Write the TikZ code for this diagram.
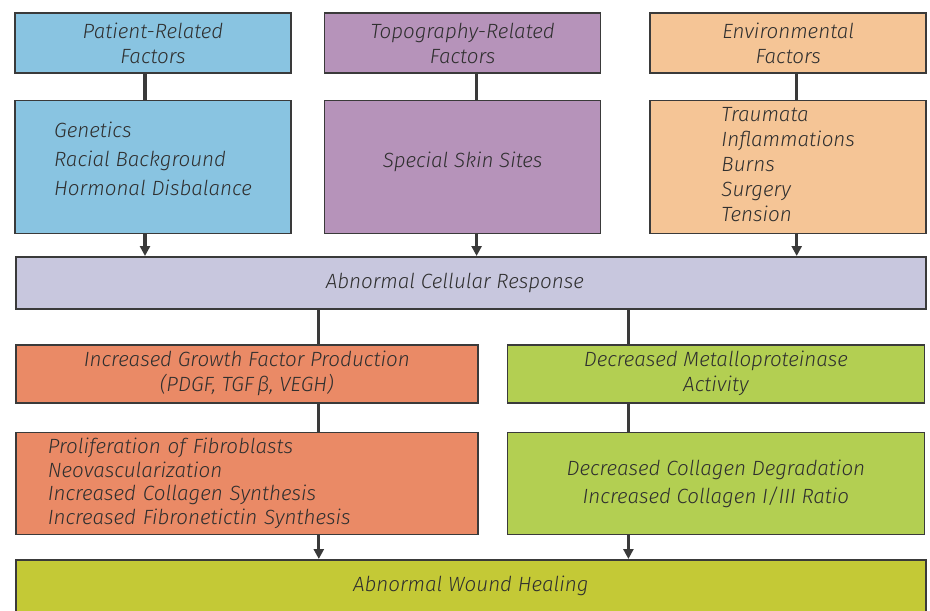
\documentclass[tikz,border=0pt]{standalone}
\usepackage{fontspec}
\IfFontExistsTF{Fira Sans Light Italic}
	{\setmainfont{Fira Sans Light}[ItalicFont={Fira Sans Light Italic}]}
	{\setmainfont{Carlito}}
\usepackage{xcolor}
\usetikzlibrary{arrows.meta,positioning}
\definecolor{patientblue}{HTML}{89C4E1}
\definecolor{topopurple}{HTML}{B693BA}
\definecolor{envpeach}{HTML}{F5C596}
\definecolor{celllilac}{HTML}{C8C7DE}
\definecolor{growthorange}{HTML}{EA8A66}
\definecolor{metalgreen}{HTML}{B3CF52}
\definecolor{healolive}{HTML}{C4C936}
\definecolor{boxline}{HTML}{3A3A3A}
\definecolor{txtgray}{HTML}{2F2F2F}

\begin{document}
\begin{tikzpicture}[x=1pt, y=1pt,
	every node/.style = {shape=rectangle, draw=boxline, line width=0.8pt,
	text=txtgray, font=\itshape\fontsize{10.3}{12.5}\selectfont, inner sep=0pt},
	factor/.style = {minimum width=138pt, minimum height=30pt, align=center},
	detail/.style = {minimum width=138pt, minimum height=66.5pt, align=left},
	wide/.style = {minimum width=455pt, minimum height=26pt, align=center},
	half/.style = {minimum height=29pt, align=center},
	link/.style = {line width=1.6pt, draw=boxline},
	arrow/.style = {link, -{Triangle[length=5pt,width=5pt]}}
]
\clip (0,0) rectangle (465,-305);
\node[factor, fill=patientblue] (patient) at (76.5,-21.5) {Patient-Related\\Factors};
\node[factor, fill=topopurple, right=16pt of patient] (topo) {Topography-Related\\Factors};
\node[factor, fill=envpeach, right=24pt of topo] (env) {Environmental\\Factors};

\node[detail, fill=patientblue, below=13pt of patient, text depth=8pt,
	font=\itshape\fontsize{10.3}{14.5}\selectfont] (patientlist)
	{Genetics\\Racial Background\\Hormonal Disbalance};
\node[detail, fill=topopurple, below=13pt of topo, text depth=7.5pt] (topolist) {Special Skin Sites};
\node[detail, fill=envpeach, below=13pt of env, text depth=3pt] (envlist)
	{Traumata\\Inflammations\\Burns\\Surgery\\Tension};

\node[wide, fill=celllilac, anchor=north west] (cell) at (7.5,-128)
	{\mbox{Abnormal Cellular Response\kern16pt}};

\node[half, fill=growthorange, minimum width=231pt, anchor=north west] (growth) at (7.5,-172)
	{Increased Growth Factor Production\\(PDGF, TGF\,β, VEGH)};
\node[fill=growthorange, below=14pt of growth, text width=199pt, inner xsep=16pt,
	minimum height=51pt, align=left, font=\itshape\fontsize{10.3}{11.75}\selectfont] (fibro)
	{Proliferation of Fibroblasts\\Neovascularization\\Increased Collagen Synthesis\\Increased Fibronetictin Synthesis};
\node[half, fill=metalgreen, minimum width=208.5pt, right=14pt of growth] (metal)
	{Decreased Metalloproteinase\\Activity};
\node[fill=metalgreen, below=14pt of metal, minimum width=208.5pt, minimum height=51pt,
	align=center, font=\itshape\fontsize{10.3}{14}\selectfont] (collagen)
	{Decreased Collagen Degradation\\Increased Collagen I/III Ratio};

\node[wide, fill=healolive, anchor=north west] (heal) at (7.5,-279.5) {Abnormal Wound Healing};

\draw[link] ([xshift=-4pt]patient.south) -- ([xshift=-4pt]patientlist.north);
\draw[link] ([xshift=7pt]topo.south) -- ([xshift=7pt]topolist.north);
\draw[link] ([xshift=4.25pt]env.south) -- ([xshift=4.25pt]envlist.north);
\draw[arrow] ([xshift=-4pt]patientlist.south) -- ([xshift=-4pt]patientlist.south |- cell.north);
\draw[arrow] ([xshift=7pt]topolist.south) -- ([xshift=7pt]topolist.south |- cell.north);
\draw[arrow] ([xshift=4.25pt]envlist.south) -- ([xshift=4.25pt]envlist.south |- cell.north);

\draw[link] ([xshift=36pt]growth.north |- cell.south) -- ([xshift=36pt]growth.north);
\draw[link] ([xshift=36pt]growth.south) -- ([xshift=36pt]fibro.north);
\draw[arrow] ([xshift=36pt]fibro.south) -- ([xshift=36pt]fibro.south |- heal.north);
\draw[link] ([xshift=-43.75pt]metal.north |- cell.south) -- ([xshift=-43.75pt]metal.north);
\draw[link] ([xshift=-43.75pt]metal.south) -- ([xshift=-43.75pt]collagen.north);
\draw[arrow] ([xshift=-43.75pt]collagen.south) -- ([xshift=-43.75pt]collagen.south |- heal.north);
\end{tikzpicture}
\end{document}
